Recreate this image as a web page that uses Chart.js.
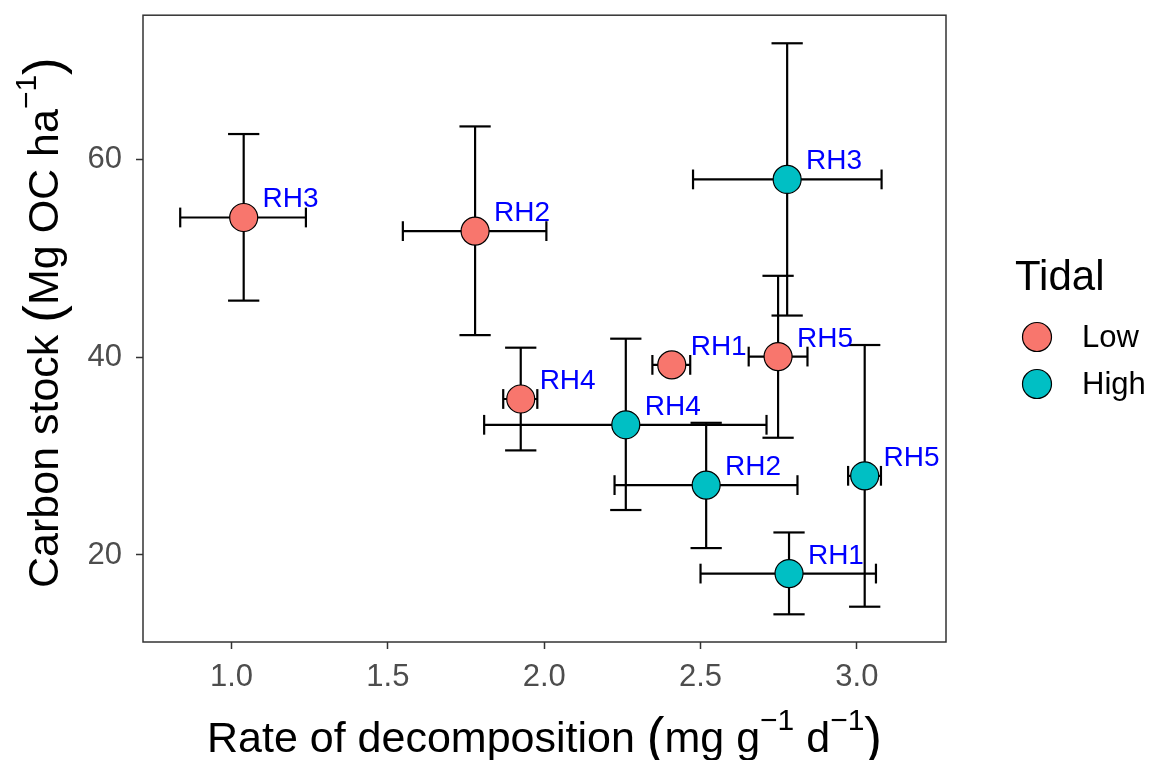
<!DOCTYPE html>
<html>
<head>
<meta charset="utf-8">
<script src="https://cdn.jsdelivr.net/npm/chart.js@4.4.1/dist/chart.umd.min.js"></script>
<style>
html,body{margin:0;padding:0;background:#ffffff;}
#wrap{width:1152px;height:760px;}
</style>
</head>
<body>
<div id="wrap"><canvas id="c" width="1152" height="760"></canvas></div>
<script>
// ---- data ----
const sites = ['RH1', 'RH2', 'RH3', 'RH4', 'RH5'];
const groups = ['Low', 'High'];

const lowRate    = [2.408, 1.779, 1.039, 1.925, 2.748];
const lowRateLo  = [2.346, 1.548, 0.836, 1.869, 2.654];
const lowRateHi  = [2.467, 2.007, 1.238, 1.978, 2.842];
const lowStock   = [39.23, 52.76, 54.14, 35.78, 40.07];
const lowStockLo = [39.23, 42.24, 45.73, 30.58, 31.86];
const lowStockHi = [39.23, 63.35, 62.58, 40.97, 48.24];

const highRate    = [2.783, 2.518, 2.777, 2.261, 3.025];
const highRateLo  = [2.500, 2.225, 2.476, 1.808, 2.972];
const highRateHi  = [3.061, 2.810, 3.079, 2.711, 3.077];
const highStock   = [18.12, 27.07, 57.99, 33.17, 28.01];
const highStockLo = [14.00, 20.70, 44.22, 24.55, 14.77];
const highStockHi = [22.28, 33.37, 71.76, 41.88, 41.24];

const xTicks = [1.0, 1.5, 2.0, 2.5, 3.0];
const yTicks = [20, 40, 60];

const FONT = "'Liberation Sans', Arial, Helvetica, sans-serif";

function buildPoints(rate, lo, hi, stock, slo, shi) {
  return rate.map((v, i) => ({
    x: v, y: stock[i], xMin: lo[i], xMax: hi[i], yMin: slo[i], yMax: shi[i], label: sites[i]
  }));
}

function line(ctx, x1, y1, x2, y2) {
  ctx.beginPath(); ctx.moveTo(x1, y1); ctx.lineTo(x2, y2); ctx.stroke();
}

const errorBars = {
  id: 'errorBars',
  beforeDatasetsDraw(chart) {
    const {ctx, scales: {x, y}} = chart;
    ctx.save();
    ctx.strokeStyle = '#000000';
    ctx.lineWidth = 2.2;
    chart.data.datasets.forEach(ds => {
      ds.data.forEach(p => {
        const cx = x.getPixelForValue(p.x), cy = y.getPixelForValue(p.y);
        const capW = Math.abs(x.getPixelForValue(p.x + 0.05) - cx);
        const capH = Math.abs(y.getPixelForValue(p.y + 1) - cy);
        if (p.yMax > p.yMin) {
          const y1 = y.getPixelForValue(p.yMin), y2 = y.getPixelForValue(p.yMax);
          line(ctx, cx, y1, cx, y2);
          line(ctx, cx - capW, y1, cx + capW, y1);
          line(ctx, cx - capW, y2, cx + capW, y2);
        }
        if (p.xMax > p.xMin) {
          const x1 = x.getPixelForValue(p.xMin), x2 = x.getPixelForValue(p.xMax);
          line(ctx, x1, cy, x2, cy);
          line(ctx, x1, cy - capH, x1, cy + capH);
          line(ctx, x2, cy - capH, x2, cy + capH);
        }
      });
    });
    ctx.restore();
  }
};

const pointLabels = {
  id: 'pointLabels',
  afterDatasetsDraw(chart) {
    const {ctx, scales: {x, y}} = chart;
    ctx.save();
    ctx.fillStyle = '#0000FF';
    ctx.font = '28px ' + FONT;
    ctx.textAlign = 'center';
    ctx.textBaseline = 'middle';
    chart.data.datasets.forEach(ds => {
      ds.data.forEach(p => {
        ctx.fillText(p.label, x.getPixelForValue(p.x + 0.15), y.getPixelForValue(p.y + 1.8));
      });
    });
    ctx.restore();
  }
};

function drawRich(ctx, segs, cx, baseline) {
  let total = 0;
  segs.forEach(s => { ctx.font = s.size + 'px ' + FONT; s.w = ctx.measureText(s.t).width; total += s.w; });
  let xx = cx - total / 2;
  ctx.textAlign = 'left';
  ctx.textBaseline = 'alphabetic';
  segs.forEach(s => {
    ctx.font = s.size + 'px ' + FONT;
    ctx.fillText(s.t, xx, baseline - (s.rise || 0));
    xx += s.w;
  });
}

const frameAndTitles = {
  id: 'frameAndTitles',
  afterDraw(chart) {
    const {ctx, chartArea: a} = chart;
    ctx.save();
    // panel border
    ctx.strokeStyle = '#333333';
    ctx.lineWidth = 1.5;
    ctx.strokeRect(a.left, a.top, a.right - a.left, a.bottom - a.top);
    ctx.fillStyle = '#000000';
    // x title
    drawRich(ctx, [
      {t: 'Rate of decomposition ', size: 43},
      {t: '(', size: 53, rise: -3},
      {t: 'mg g', size: 43},
      {t: '\u22121', size: 30, rise: 22},
      {t: ' d', size: 43},
      {t: '\u22121', size: 30, rise: 22},
      {t: ')', size: 53, rise: -3}
    ], (a.left + a.right) / 2, 752);
    // y title
    ctx.save();
    ctx.translate(58, (a.top + a.bottom) / 2 - 6);
    ctx.rotate(-Math.PI / 2);
    drawRich(ctx, [
      {t: 'Carbon stock ', size: 43},
      {t: '(', size: 53, rise: -3},
      {t: 'Mg OC ha', size: 43},
      {t: '\u22121', size: 30, rise: 22},
      {t: ')', size: 53, rise: -3}
    ], 0, 0);
    ctx.restore();
    // legend
    ctx.fillStyle = '#000000';
    ctx.textAlign = 'left';
    ctx.textBaseline = 'alphabetic';
    ctx.font = '42px ' + FONT;
    ctx.fillText('Tidal', 1015, 290);
    chart.data.datasets.forEach((ds, i) => {
      const cy = 337 + i * 47;
      ctx.beginPath();
      ctx.arc(1037, cy, 14.5, 0, Math.PI * 2);
      ctx.fillStyle = ds.backgroundColor;
      ctx.fill();
      ctx.lineWidth = 1.2;
      ctx.strokeStyle = '#000000';
      ctx.stroke();
      ctx.fillStyle = '#000000';
      ctx.font = '31px ' + FONT;
      ctx.textBaseline = 'middle';
      ctx.fillText(ds.label, 1082, cy + 1);
    });
    ctx.restore();
  }
};

const tickGrid = {display: true, drawOnChartArea: false, drawTicks: true, tickLength: 7, tickWidth: 1.5, tickColor: '#333333'};

new Chart(document.getElementById('c'), {
  type: 'scatter',
  data: {
    datasets: [
      {label: groups[0], data: buildPoints(lowRate, lowRateLo, lowRateHi, lowStock, lowStockLo, lowStockHi),
       backgroundColor: '#F8766D', borderColor: '#000000', pointRadius: 14, pointBorderWidth: 1.2, pointHoverRadius: 14},
      {label: groups[1], data: buildPoints(highRate, highRateLo, highRateHi, highStock, highStockLo, highStockHi),
       backgroundColor: '#00BFC4', borderColor: '#000000', pointRadius: 14, pointBorderWidth: 1.2, pointHoverRadius: 14}
    ]
  },
  options: {
    responsive: false,
    animation: false,
    devicePixelRatio: 1,
    layout: {padding: {left: 0, top: 14, right: 206, bottom: 0}},
    plugins: {legend: {display: false}, tooltip: {enabled: false}},
    scales: {
      x: {
        type: 'linear', min: 0.717, max: 3.285,
        grid: tickGrid,
        border: {display: false},
        afterBuildTicks: s => { s.ticks = xTicks.map(v => ({value: v})); },
        afterFit: s => { s.height = 118; s.paddingLeft = 0; s.paddingRight = 0; },
        ticks: {color: '#4D4D4D', font: {family: FONT, size: 31}, padding: 10, callback: v => Number(v).toFixed(1)}
      },
      y: {
        type: 'linear', min: 11.2, max: 74.6,
        grid: tickGrid,
        border: {display: false},
        afterBuildTicks: s => { s.ticks = yTicks.map(v => ({value: v})); },
        afterFit: s => { s.width = 143; s.paddingTop = 0; s.paddingBottom = 0; },
        ticks: {color: '#4D4D4D', font: {family: FONT, size: 31}, padding: 14, callback: v => String(v)}
      }
    }
  },
  plugins: [errorBars, pointLabels, frameAndTitles]
});
</script>
</body>
</html>
